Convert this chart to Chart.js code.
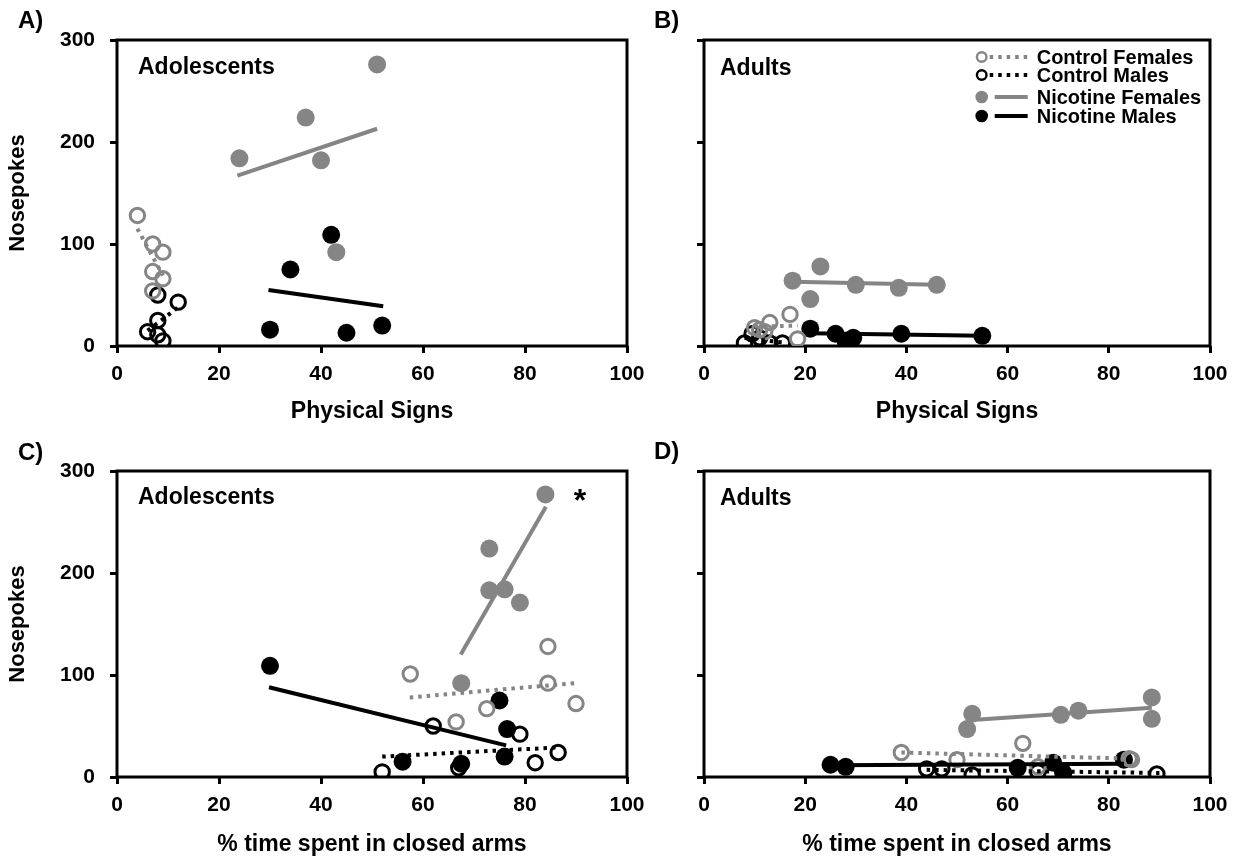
<!DOCTYPE html>
<html>
<head>
<meta charset="utf-8">
<script src="https://cdn.jsdelivr.net/npm/chart.js@4.4.0/dist/chart.umd.min.js"></script>
<style>
  body { margin: 0; background: #fff; }
  #wrap { position: relative; width: 1241px; height: 858px; overflow: hidden; }
  canvas { position: absolute; }
</style>
</head>
<body>
<div id="wrap">
  <canvas id="panelA" width="680" height="425" style="left:0;top:0"></canvas>
  <canvas id="panelB" width="601" height="425" style="left:640px;top:0"></canvas>
  <canvas id="panelC" width="680" height="433" style="left:0;top:425px"></canvas>
  <canvas id="panelD" width="601" height="433" style="left:640px;top:425px"></canvas>
</div>
<script>
const xTicks = [0, 20, 40, 60, 80, 100];
const yTicks = [0, 100, 200, 300];
const groupNames = ['Control Females', 'Control Males', 'Nicotine Females', 'Nicotine Males'];

// A) adolescents - physical signs vs nosepokes
const adolSignsCtrlF = [[4, 128], [7, 100], [9, 92], [7, 73], [9, 66], [7, 54]];
const adolSignsCtrlM = [[8, 50], [12, 43], [8, 25], [6, 14], [8, 11], [9, 5]];
const adolSignsNicF = [[24, 184], [37, 224], [40, 182], [43, 92], [51, 276]];
const adolSignsNicM = [[30, 16], [34, 75], [42, 109], [45, 13], [52, 20]];
// fitted line ends
const adolSignsFitCtrlF = [[4, 115], [9, 69]];
const adolSignsFitCtrlM = [[6, 15], [12, 38]];
const adolSignsFitNicF = [[23.6, 167], [51, 213]];
const adolSignsFitNicM = [[29.7, 55], [52.2, 39]];

// B) adults - physical signs vs nosepokes
const adultSignsCtrlF = [[10, 18], [11, 16], [12, 14], [13, 23], [17, 31], [18.5, 7]];
const adultSignsCtrlM = [[8, 3], [9.5, 12], [11, 8], [13, 3], [15.5, 3]];
const adultSignsNicF = [[17.5, 64], [21, 46], [23, 78], [30, 60], [38.5, 57], [46, 60]];
const adultSignsNicM = [[21, 17], [26, 12], [28, 5], [29.5, 8], [39, 12], [55, 10]];
const adultSignsFitCtrlF = [[10, 19], [18.5, 20]];
const adultSignsFitCtrlM = [[8, 8], [15.5, 3.5]];
const adultSignsFitNicF = [[17.5, 63], [46, 60]];
const adultSignsFitNicM = [[21, 12.5], [55, 10]];

// C) adolescents - % time in closed arms vs nosepokes
const adolEpmCtrlF = [[57.5, 101], [66.5, 54], [72.5, 67], [84.5, 128], [84.5, 92], [90, 72]];
const adolEpmCtrlM = [[52, 5], [62, 50], [67, 9], [79, 42], [82, 14], [86.5, 24]];
const adolEpmNicF = [[67.5, 92], [73, 224], [73, 183], [76, 184], [79, 171], [84, 277]];
const adolEpmNicM = [[30, 109], [56, 15], [67.5, 13], [75, 75], [76.5, 47], [76, 20]];
const adolEpmFitCtrlF = [[57.4, 78], [89.7, 92]];
const adolEpmFitCtrlM = [[52, 20], [86.5, 29]];
const adolEpmFitNicF = [[67.4, 120], [84.1, 265]];
const adolEpmFitNicM = [[29.8, 88], [76.3, 31]];

// D) adults - % time in closed arms vs nosepokes
const adultEpmCtrlF = [[39, 24], [50, 17], [63, 33], [66, 10], [84, 18], [84.5, 17]];
const adultEpmCtrlM = [[44, 8], [47, 8], [53, 2], [66, 5], [89.5, 3]];
const adultEpmNicF = [[52, 47], [53, 62], [70.5, 61], [74, 65], [88.5, 78], [88.5, 57]];
const adultEpmNicM = [[25, 12], [28, 10], [62, 9], [69, 14], [71, 4], [83, 17]];
const adultEpmFitCtrlF = [[39, 24], [84, 18]];
const adultEpmFitCtrlM = [[44, 7], [90, 4]];
const adultEpmFitNicF = [[53, 56], [88.5, 68]];
const adultEpmFitNicM = [[25, 11.5], [83, 13]];

const GRAY = '#858585';
const FONT = '"Liberation Sans", Arial, sans-serif';
const DOTS = [3.5, 5];

const groupStyle = [
  { color: GRAY, open: true, dotted: true },
  { color: '#000', open: true, dotted: true },
  { color: GRAY, open: false, dotted: false },
  { color: '#000', open: false, dotted: false }
];

const toXY = arr => arr.map(p => ({ x: p[0], y: p[1] }));

// box round the plot area
const frame = {
  id: 'frame',
  beforeDatasetsDraw(chart) {
    const { ctx, chartArea: a } = chart;
    ctx.save();
    ctx.strokeStyle = '#000';
    ctx.lineWidth = 3;
    ctx.strokeRect(a.left, a.top, a.right - a.left, a.bottom - a.top);
    ctx.restore();
  }
};

const notes = {
  id: 'notes',
  afterDraw(chart, args, opts) {
    const ctx = chart.ctx;
    ctx.save();
    ctx.fillStyle = '#000';
    ctx.textBaseline = 'alphabetic';
    (opts.items || []).forEach(t => {
      ctx.font = 'bold ' + t.size + 'px ' + FONT;
      ctx.textAlign = t.align || 'left';
      ctx.fillText(t.text, t.x, t.y);
    });
    ctx.restore();
  }
};

const groupLegend = {
  id: 'groupLegend',
  afterDraw(chart, args, o) {
    if (!o.show) return;
    const ctx = chart.ctx;
    ctx.save();
    groupNames.forEach((name, i) => {
      const st = groupStyle[i];
      const base = o.rows[i];
      const cy = base - 7;
      ctx.beginPath();
      ctx.strokeStyle = st.color;
      ctx.lineWidth = 4;
      ctx.setLineDash(st.dotted ? DOTS : []);
      ctx.moveTo(o.x + (st.dotted ? 8 : 13), cy);
      ctx.lineTo(o.x + 46, cy);
      ctx.stroke();
      ctx.setLineDash([]);
      ctx.beginPath();
      if (st.open) {
        ctx.arc(o.x, cy, 4.8, 0, Math.PI * 2);
        ctx.lineWidth = 2.4;
        ctx.stroke();
      } else {
        ctx.arc(o.x, cy, 6.3, 0, Math.PI * 2);
        ctx.fillStyle = st.color;
        ctx.fill();
      }
      ctx.fillStyle = '#000';
      ctx.font = 'bold 20px ' + FONT;
      ctx.textAlign = 'left';
      ctx.fillText(name, o.x + 55, base);
    });
    ctx.restore();
  }
};

function makePanel(id, groups, fits, cfg) {
  const datasets = [];
  fits.forEach((f, i) => datasets.push({
    data: toXY(f),
    showLine: true,
    borderColor: groupStyle[i].color,
    borderWidth: 4,
    borderDash: groupStyle[i].dotted ? DOTS : [],
    pointRadius: 0
  }));
  groups.forEach((g, i) => {
    const s = groupStyle[i];
    datasets.push({
      data: toXY(g),
      showLine: false,
      pointStyle: 'circle',
      pointRadius: s.open ? 7.2 : 9,
      pointBorderWidth: s.open ? 3 : 0,
      pointBackgroundColor: s.open ? 'rgba(0,0,0,0)' : s.color,
      pointBorderColor: s.color
    });
  });

  return new Chart(document.getElementById(id), {
    type: 'scatter',
    data: { datasets },
    options: {
      responsive: false,
      animation: false,
      events: [],
      layout: { padding: cfg.padding },
      scales: {
        x: {
          type: 'linear',
          min: xTicks[0],
          max: xTicks[xTicks.length - 1],
          afterBuildTicks: s => { s.ticks = xTicks.map(v => ({ value: v })); },
          afterFit: s => { s.height = cfg.xHeight; s.paddingLeft = 0; s.paddingRight = 0; },
          grid: { drawOnChartArea: false, drawTicks: true, tickLength: 7, tickWidth: 3, color: '#000' },
          border: { display: false },
          ticks: { color: '#000', autoSkip: false, maxRotation: 0, padding: 9,
                   font: { family: FONT, size: 21, weight: 'bold' } },
          title: { display: true, text: cfg.xTitle, color: '#000', padding: { top: 0, bottom: 0 },
                   font: { family: FONT, size: 23, weight: 'bold' } }
        },
        y: {
          type: 'linear',
          min: yTicks[0],
          max: yTicks[yTicks.length - 1],
          afterBuildTicks: s => { s.ticks = yTicks.map(v => ({ value: v })); },
          afterFit: s => { s.width = cfg.yWidth; s.paddingTop = 0; s.paddingBottom = 0; },
          grid: { drawOnChartArea: false, drawTicks: true, tickLength: 7, tickWidth: 3, color: '#000' },
          border: { display: false },
          ticks: { display: cfg.yLabels, color: '#000', padding: 15,
                   font: { family: FONT, size: 21, weight: 'bold' } },
          title: { display: !!cfg.yTitle, text: cfg.yTitle || '', color: '#000', padding: { top: 5, bottom: 0 },
                   font: { family: FONT, size: 22, weight: 'bold' } }
        }
      },
      plugins: {
        legend: { display: false },
        tooltip: { enabled: false },
        notes: { items: cfg.notes },
        groupLegend: { show: !!cfg.legend, x: 341.7, rows: [64, 82, 104, 123] }
      }
    },
    plugins: [frame, notes, groupLegend]
  });
}

makePanel('panelA',
  [adolSignsCtrlF, adolSignsCtrlM, adolSignsNicF, adolSignsNicM],
  [adolSignsFitCtrlF, adolSignsFitCtrlM, adolSignsFitNicF, adolSignsFitNicM],
  { padding: { left: 0, top: 40, right: 53, bottom: 0 }, yWidth: 117, xHeight: 79, yLabels: true,
    yTitle: 'Nosepokes', xTitle: 'Physical Signs',
    notes: [{ text: 'A)', x: 18, y: 28, size: 24 }, { text: 'Adolescents', x: 138, y: 74, size: 23 }] });

makePanel('panelB',
  [adultSignsCtrlF, adultSignsCtrlM, adultSignsNicF, adultSignsNicM],
  [adultSignsFitCtrlF, adultSignsFitCtrlM, adultSignsFitNicF, adultSignsFitNicM],
  { padding: { left: 0, top: 40, right: 31, bottom: 0 }, yWidth: 64, xHeight: 79, yLabels: false,
    xTitle: 'Physical Signs', legend: true,
    notes: [{ text: 'B)', x: 14, y: 28, size: 24 }, { text: 'Adults', x: 80, y: 75, size: 23 }] });

makePanel('panelC',
  [adolEpmCtrlF, adolEpmCtrlM, adolEpmNicF, adolEpmNicM],
  [adolEpmFitCtrlF, adolEpmFitCtrlM, adolEpmFitNicF, adolEpmFitNicM],
  { padding: { left: 0, top: 46, right: 53, bottom: 0 }, yWidth: 117, xHeight: 81, yLabels: true,
    yTitle: 'Nosepokes', xTitle: '% time spent in closed arms',
    notes: [{ text: 'C)', x: 18, y: 35, size: 24 }, { text: 'Adolescents', x: 138, y: 79, size: 23 },
            { text: '*', x: 580, y: 86, size: 32, align: 'center' }] });

makePanel('panelD',
  [adultEpmCtrlF, adultEpmCtrlM, adultEpmNicF, adultEpmNicM],
  [adultEpmFitCtrlF, adultEpmFitCtrlM, adultEpmFitNicF, adultEpmFitNicM],
  { padding: { left: 0, top: 46, right: 31, bottom: 0 }, yWidth: 64, xHeight: 81, yLabels: false,
    xTitle: '% time spent in closed arms',
    notes: [{ text: 'D)', x: 14, y: 34, size: 24 }, { text: 'Adults', x: 80, y: 80, size: 23 }] });
</script>
</body>
</html>
